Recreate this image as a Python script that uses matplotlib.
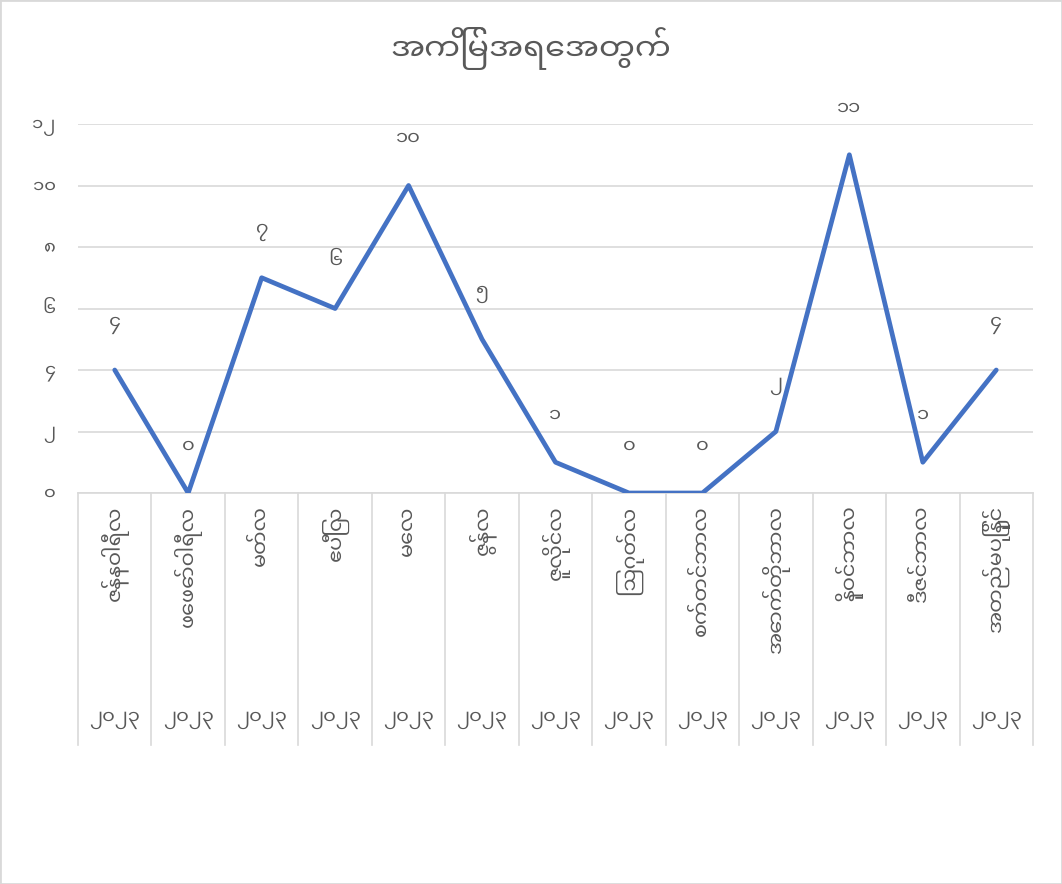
import matplotlib
matplotlib.use("Agg")
import matplotlib.pyplot as plt
from matplotlib.patches import Rectangle

# chart data
months = ['ဇန်နဝါရီလ', 'ဖေဖော်ဝါရီလ', 'မတ်လ', 'ဧပြီလ', 'မေလ', 'ဇွန်လ', 'ဇူလိုင်လ',
          'ဩဂုတ်လ', 'စက်တင်ဘာလ', 'အောက်တိုဘာလ', 'နိုဝင်ဘာလ', 'ဒီဇင်ဘာလ', 'အတည်မပြုနိုင်']
years = ['၂၀၂၃'] * 13
counts = [4, 0, 7, 6, 10, 5, 1, 0, 0, 2, 11, 1, 4]
yticks = [0, 2, 4, 6, 8, 10, 12]
title = 'အကြိမ်အရေအတွက်'

plt.rcParams['font.family'] = ['Noto Sans Myanmar UI', 'DejaVu Sans']

MY_DIGITS = str.maketrans('0123456789', '၀၁၂၃၄၅၆၇၈၉')
def mm(n):
    return str(n).translate(MY_DIGITS)

txt = '#595959'
grid = '#d9d9d9'
blue = '#4472C4'

fig = plt.figure(figsize=(10.62, 8.84), dpi=100)
ax = fig.add_axes([78 / 1062, (884 - 493) / 884, (1033 - 78) / 1062, (493 - 124) / 884])

x = list(range(len(counts)))
ax.plot(x, counts, color=blue, lw=3.4, solid_joinstyle='round', solid_capstyle='round', zorder=3)
for i, v in zip(x, counts):
    ax.annotate(mm(v), (i, v), xytext=(0, 33), textcoords='offset points',
                ha='center', va='center', fontsize=14, color=txt)

ax.set_xlim(-0.5, len(counts) - 0.5)
ax.set_ylim(0, 12)
ax.set_yticks(yticks)
ax.set_yticklabels([mm(t) for t in yticks], fontsize=13, color=txt)
ax.tick_params(axis='y', length=0, pad=16)
ax.set_xticks([])
ax.grid(axis='y', color=grid, lw=1.2)
ax.set_axisbelow(True)
for s in ['top', 'right', 'left']:
    ax.spines[s].set_visible(False)
ax.spines['bottom'].set_color(grid)
ax.spines['bottom'].set_linewidth(1.2)

# multi-level category axis: separators, month names, years
tr = ax.get_xaxis_transform()
for b in range(len(counts) + 1):
    ax.plot([b - 0.5, b - 0.5], [0, -252 / 369], transform=tr, clip_on=False,
            color=grid, lw=1.2)
for i, (m, yr) in enumerate(zip(months, years)):
    ax.annotate(m, (i, 0), xycoords=tr, xytext=(0, -9), textcoords='offset points',
                rotation=90, ha='center', va='top', fontsize=15, color=txt)
    ax.annotate(yr, (i, 0), xycoords=tr, xytext=(0, -163), textcoords='offset points',
                ha='center', va='center', fontsize=14, color=txt)

fig.text(0.5, 1 - 48 / 884, title, ha='center', va='center', fontsize=23, color=txt)

fig.patches.append(Rectangle((0, 0), 1, 1, transform=fig.transFigure, fill=False,
                             edgecolor=grid, lw=2))
fig.savefig('out.png', dpi=100)
